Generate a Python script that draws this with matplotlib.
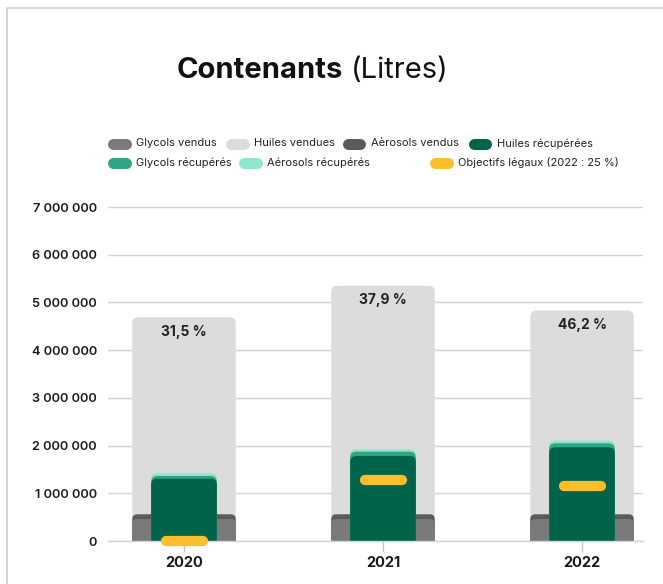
import matplotlib
matplotlib.use("Agg")
import matplotlib.pyplot as plt
from matplotlib.patches import FancyBboxPatch, Rectangle
from matplotlib.lines import Line2D

# ---------------- data ----------------
years = ["2020", "2021", "2022"]
huiles_vendues = [4.69e6, 5.35e6, 4.83e6]
glycols_vendus = [0.46e6, 0.46e6, 0.46e6]
aerosols_vendus = [0.10e6, 0.10e6, 0.10e6]
huiles_recuperees = [1.306e6, 1.782e6, 1.964e6]
glycols_recuperes = [0.057e6, 0.090e6, 0.084e6]
aerosols_recuperes = [0.056e6, 0.050e6, 0.055e6]
objectifs_legaux = [0.0, 1.28e6, 1.15e6]
pourcentages = ["31,5 %", "37,9 %", "46,2 %"]
y_ticks = [0, 1e6, 2e6, 3e6, 4e6, 5e6, 6e6, 7e6]
y_tick_labels = ["0", "1 000 000", "2 000 000", "3 000 000", "4 000 000",
                 "5 000 000", "6 000 000", "7 000 000"]
legend_row1 = ["Glycols vendus", "Huiles vendues", "Aèrosols vendus", "Huiles récupérées"]
legend_row2 = ["Glycols récupérés", "Aérosols récupérés", "Objectifs légaux (2022 : 25 %)"]

# ---------------- style ----------------
C_GLY_V = "#7a7a7a"
C_HUI_V = "#dcdcdc"
C_AER_V = "#5a5a5a"
C_HUI_R = "#00634a"
C_GLY_R = "#2ea585"
C_AER_R = "#8fe6cc"
C_OBJ = "#fbbf2d"
GRID = "#d4d4d4"
TXT = "#1a1a1a"
FONT = ["Inter", "DejaVu Sans"]
plt.rcParams["font.family"] = FONT

W, H = 663, 584
fig = plt.figure(figsize=(W / 100, H / 100), dpi=100)
fig.patch.set_facecolor("white")

# border (cropped rectangle)
fig.patches.append(Rectangle((6.5 / W, -0.5), 2.0, (1 - 8 / H) + 0.5, transform=fig.transFigure,
                             fill=False, edgecolor="#d0d0d0", lw=1.2))

px_per_m = 47.71
ytop = 7.2e6
ax_h = ytop / 1e6 * px_per_m
ax = fig.add_axes([108 / W, 43 / H, (643 - 108) / W, ax_h / H])
ax.set_xlim(-(184 - 108) / 199, 2 + (643 - 582) / 199)
ax.set_ylim(0, ytop)
for s in ["top", "right", "left"]:
    ax.spines[s].set_visible(False)
ax.spines["bottom"].set_color(GRID)
ax.spines["bottom"].set_linewidth(1)
ax.yaxis.grid(True, color=GRID, lw=1)
ax.set_axisbelow(True)
ax.set_yticks(y_ticks)
ax.set_yticklabels(y_tick_labels, fontsize=9.2, fontweight="semibold", color=TXT)
ax.tick_params(axis="y", length=0, pad=8)
ax.set_xticks(range(len(years)))
ax.set_xticklabels(years, fontsize=10.5, fontweight="bold", color=TXT)
ax.tick_params(axis="x", length=8, color="#c8c8c8", width=1, pad=3)

(x0p, y0p), (x1p, y1p) = ax.transData.transform([(0, 0), (1, 1e6)])
ppx = x1p - x0p
ppy = (y1p - y0p) / 1e6


def rbar(x, top, width, color, r_px, z):
    rx = r_px / ppx
    ry = r_px / ppy
    p = FancyBboxPatch((x - width / 2, -2 * ry), width, top + 2 * ry,
                       boxstyle=f"round,pad=0,rounding_size={rx}",
                       mutation_aspect=ry / rx, facecolor=color, edgecolor="none", zorder=z)
    ax.add_patch(p)


WIDE = 0.52
NARROW = 0.33
for i in range(len(years)):
    rbar(i, huiles_vendues[i], WIDE, C_HUI_V, 6, 1.0)
    rbar(i, glycols_vendus[i] + aerosols_vendus[i], WIDE, C_AER_V, 5, 1.1)
    rbar(i, glycols_vendus[i], WIDE, C_GLY_V, 5, 1.2)
    tot = huiles_recuperees[i] + glycols_recuperes[i] + aerosols_recuperes[i]
    rbar(i, tot, NARROW, C_AER_R, 6, 1.3)
    rbar(i, huiles_recuperees[i] + glycols_recuperes[i], NARROW, C_GLY_R, 6, 1.4)
    rbar(i, huiles_recuperees[i], NARROW, C_HUI_R, 6, 1.5)
    hw = 18.5 / ppx
    ax.plot([i - hw, i + hw], [objectifs_legaux[i]] * 2, color=C_OBJ, lw=7.4,
            solid_capstyle="round", zorder=5, clip_on=False)
    ax.annotate(pourcentages[i], (i, huiles_vendues[i]), xytext=(0, -10.3),
                textcoords="offset points", ha="center", va="center",
                fontsize=10, fontweight="bold", color="#222222", zorder=6)

# ---------------- title ----------------
ty = 1 - 70 / H
t1 = fig.text(177 / W, ty, "Contenants", fontsize=21, fontweight="bold", color="#111111",
              ha="left", va="center")
fig.canvas.draw()
bb = t1.get_window_extent(renderer=fig.canvas.get_renderer())
fig.text((bb.x1 + 7) / W, ty, "(Litres)", fontsize=21, color="#111111", ha="left", va="center")

# ---------------- legend ----------------
def leg_item(xm, y, label, color):
    yy = 1 - y / H
    r = 5.5
    fig.lines.append(Line2D([(xm + r) / W, (xm + 24 - r) / W], [yy, yy], transform=fig.transFigure,
                            color=color, lw=11 * 0.72, solid_capstyle="round"))
    fig.text((xm + 29) / W, yy, label, fontsize=8.0, color="#222222", ha="left", va="center")


row1_x = [107, 225, 342, 468]
row1_c = [C_GLY_V, C_HUI_V, C_AER_V, C_HUI_R]
for xm, lab, c in zip(row1_x, legend_row1, row1_c):
    leg_item(xm, 143.5, lab, c)
row2_x = [107, 238, 429]
row2_c = [C_GLY_R, C_AER_R, C_OBJ]
for xm, lab, c in zip(row2_x, legend_row2, row2_c):
    leg_item(xm, 162.5, lab, c)

fig.savefig("out.png", dpi=100)
